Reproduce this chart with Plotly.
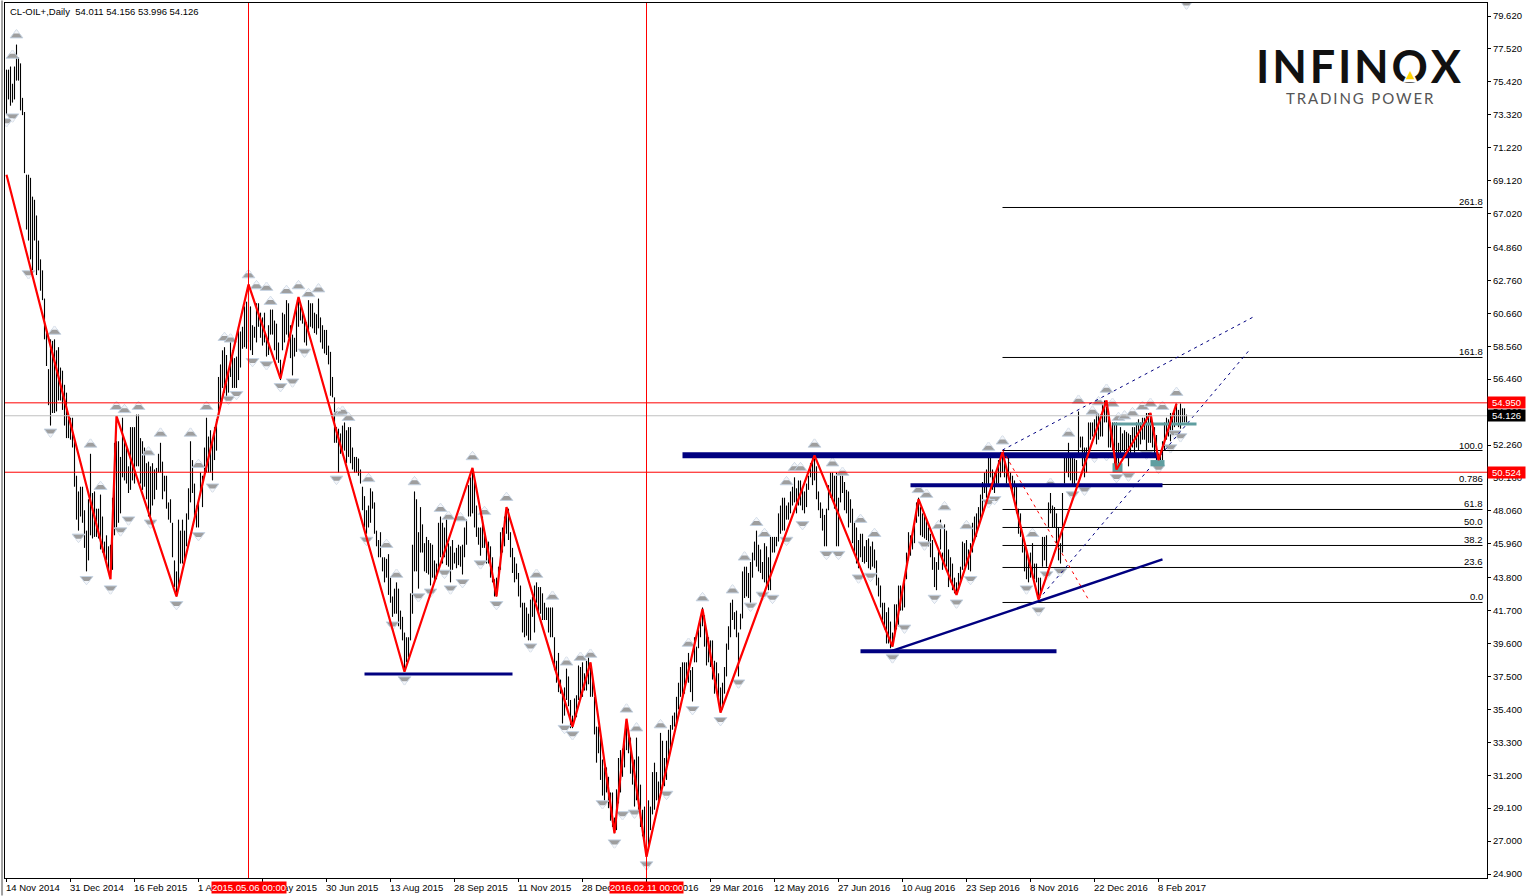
import plotly.graph_objects as go

# ---------- price bars (index = bar number, 32 bars between axis ticks) ----------
highs = [
76.2,76.2,76.4,75.3,76.4,77.8,77.0,76.6,74.4,73.5,69.5,69.5,69.3,68.1,67.9,66.9,65.3,64.1,63.4,61.6,59.4,57.1,59.0,58.9,59.0,58.3,58.5,57.2,57.0,56.1,55.6,53.9,
54.0,54.0,52.6,50.3,49.3,49.6,49.6,48.1,46.8,48.8,51.7,49.2,49.3,48.2,48.2,49.1,47.7,46.1,46.5,45.8,45.9,48.9,52.4,52.5,52.5,51.5,54.0,52.6,52.1,50.9,53.4,53.4,
53.4,54.2,54.2,52.7,52.5,52.1,51.1,51.2,50.9,51.1,50.7,50.8,51.7,52.4,51.2,50.3,50.3,48.6,48.8,47.3,44.9,44.2,47.5,46.8,47.5,46.8,47.9,49.5,52.5,51.3,49.8,48.4,
48.6,50.5,50.3,52.1,54.0,52.8,53.2,52.4,53.4,53.9,56.6,57.4,58.3,58.5,58.0,57.0,59.0,58.3,57.8,57.9,59.8,59.5,59.8,61.1,61.4,62.3,61.1,59.9,59.8,61.3,61.3,60.7,
60.4,60.7,59.1,59.9,60.9,60.9,60.2,60.0,58.8,57.7,60.7,60.6,61.5,61.3,59.9,59.3,59.1,61.1,61.6,61.1,60.9,60.4,60.1,61.5,61.3,61.3,60.7,60.6,61.6,60.4,59.9,59.6,
59.6,58.6,58.2,56.6,55.3,53.4,53.3,53.0,53.5,53.7,53.2,53.4,53.4,52.1,51.5,51.5,51.4,50.7,49.6,49.0,48.1,48.4,49.5,49.3,48.6,46.8,46.2,46.7,45.1,45.1,45.0,45.3,
43.8,42.6,43.1,43.5,43.1,41.7,41.3,40.3,40.0,40.0,42.8,45.9,49.3,48.8,46.7,48.3,47.2,46.0,46.4,46.2,46.0,45.9,44.9,44.7,47.3,47.7,47.3,47.0,47.8,46.0,45.8,46.2,
45.4,45.7,45.9,45.8,45.9,47.0,47.5,49.7,50.2,50.5,50.0,48.4,47.0,47.0,47.7,46.7,46.1,46.1,45.8,45.1,43.7,43.8,44.5,46.7,47.0,47.7,48.3,48.2,46.7,45.7,45.1,44.7,
44.1,43.3,42.2,42.2,41.9,41.5,42.4,42.6,43.3,43.5,43.2,43.2,42.8,42.2,41.9,41.9,41.9,41.9,40.0,38.5,39.0,37.3,36.6,36.8,38.0,37.5,36.0,35.0,36.1,36.3,38.2,38.1,
38.4,37.7,38.5,38.9,38.1,37.3,36.2,34.3,34.3,33.8,32.2,31.7,31.7,31.1,30.1,30.1,28.5,30.3,32.3,32.8,32.9,33.6,34.7,34.1,33.6,32.4,32.2,33.6,32.4,30.6,29.0,29.2,
27.3,29.6,29.2,31.4,32.0,31.4,30.8,33.9,33.4,32.3,33.4,34.1,34.4,35.0,35.2,36.2,37.1,38.1,38.4,38.4,38.4,39.0,37.9,38.1,40.0,39.4,40.5,41.2,41.9,41.4,40.5,40.0,
39.8,39.8,38.5,38.4,37.7,36.8,37.1,38.1,39.6,40.7,42.2,42.4,41.6,41.7,40.3,41.5,44.2,44.5,44.5,44.1,44.8,45.4,46.1,46.8,45.9,45.6,44.8,46.0,45.8,45.1,46.4,46.4,
46.4,46.4,47.9,48.4,48.9,48.9,48.4,48.6,49.3,49.6,50.2,49.5,50.0,50.0,49.6,49.3,49.8,50.3,51.1,51.5,51.4,50.9,49.3,48.6,48.2,47.8,48.2,49.7,50.5,50.5,50.3,50.5,
48.9,50.5,50.5,49.9,49.4,49.3,48.8,48.2,47.3,47.0,46.2,46.6,46.6,45.8,46.2,46.3,45.8,46.1,45.6,44.9,43.8,43.3,42.2,42.2,41.6,41.9,41.0,40.3,42.1,42.1,43.3,43.3,
43.2,43.7,45.4,46.7,46.5,46.6,47.3,48.6,48.9,48.3,47.9,47.9,47.5,47.0,46.6,46.2,45.1,44.8,45.6,47.5,45.4,47.2,46.8,45.6,45.1,44.7,43.8,43.5,44.1,44.5,46.1,46.0,
46.2,45.6,46.0,47.3,47.7,47.9,48.3,49.1,49.9,50.5,50.7,51.5,51.5,50.7,50.5,50.7,51.3,51.8,51.8,51.5,50.9,51.5,50.5,50.3,50.0,49.7,48.2,47.9,46.6,46.0,45.6,45.1,
45.4,46.0,44.7,44.7,43.8,43.8,46.4,46.4,46.5,48.6,49.2,48.4,48.3,47.9,47.0,46.0,49.2,51.7,51.7,52.4,51.6,51.6,51.4,51.3,54.4,52.8,52.8,52.1,52.1,53.7,53.7,53.7,
53.9,54.3,54.3,54.2,54.9,55.1,55.0,54.5,53.7,53.7,53.7,53.7,52.4,53.4,53.0,53.2,53.1,53.0,52.9,53.4,53.4,53.7,53.9,53.7,54.0,54.0,54.3,54.3,54.3,53.7,53.4,52.9,
51.7,51.9,52.5,53.7,54.0,53.9,54.3,54.3,54.5,54.9,54.5,54.9,54.6,54.6,54.2]
lows = [
73.3,74.3,73.9,74.1,74.3,75.5,75.5,73.6,73.3,69.6,66.0,65.3,64.1,63.4,65.3,63.1,63.4,62.1,61.5,59.0,57.3,54.8,53.5,54.3,54.3,54.4,55.1,55.1,54.5,53.5,52.7,52.7,
52.6,52.1,49.6,47.5,46.8,47.7,47.3,45.7,44.2,44.9,46.5,46.3,46.4,46.4,46.3,45.6,45.4,45.1,44.9,44.2,44.1,44.3,46.5,47.0,47.3,47.9,50.2,50.0,49.8,49.2,49.4,50.0,
49.8,50.9,50.9,49.8,49.4,49.6,48.8,47.7,47.7,48.4,48.8,49.4,50.5,50.5,48.8,49.3,48.2,47.5,47.3,45.1,43.2,42.6,43.2,44.7,44.7,44.9,45.8,47.5,48.6,49.2,47.7,47.0,
47.0,49.2,48.3,50.5,50.5,50.5,50.5,50.0,51.3,51.9,54.0,54.9,55.9,55.6,55.3,55.6,56.6,55.9,55.9,55.9,56.4,57.2,58.4,58.5,58.4,58.8,58.3,58.0,59.1,58.8,59.8,59.1,
58.6,58.8,57.9,58.0,59.3,59.3,58.3,57.7,57.5,56.4,58.3,58.8,59.3,59.1,57.8,56.7,57.9,58.2,59.8,60.2,60.0,58.8,58.6,59.6,59.8,59.7,59.4,59.3,59.7,58.8,58.4,58.1,
58.0,57.4,55.4,55.3,52.4,52.4,50.5,51.7,51.6,51.9,51.1,51.5,51.1,50.7,50.5,50.5,50.3,49.8,48.1,47.0,46.6,47.0,47.3,48.2,46.6,45.8,45.1,45.1,44.2,43.5,43.8,42.7,
42.2,41.3,41.5,41.5,40.7,40.5,39.8,37.9,38.4,38.7,39.8,41.5,44.2,44.2,43.1,45.4,45.4,44.2,44.1,44.0,43.3,43.8,43.5,43.7,44.3,45.1,44.7,45.1,44.6,44.5,43.5,44.3,
44.7,44.4,44.6,44.5,44.0,45.1,45.9,47.7,47.7,47.9,47.0,46.4,45.9,45.2,45.7,45.7,44.7,44.7,43.8,43.5,42.6,42.6,43.8,44.3,45.4,45.8,46.6,46.2,45.1,44.1,43.5,43.7,
42.6,41.9,40.3,40.0,40.1,39.8,39.8,41.3,40.3,42.2,41.5,41.5,41.1,41.1,41.1,40.3,40.0,40.0,37.9,37.1,36.5,36.4,34.5,35.0,36.0,35.6,34.2,34.2,34.7,34.9,36.0,36.2,
36.2,36.6,36.6,37.0,36.2,36.2,33.8,32.0,32.6,30.9,29.9,29.4,30.1,29.1,28.3,27.9,27.5,27.7,29.4,30.1,31.1,31.7,32.8,32.6,31.3,30.6,29.2,29.6,29.0,27.9,27.3,26.6,
26.0,26.7,27.7,28.7,29.0,29.6,29.4,30.1,30.7,30.5,30.9,32.2,32.8,34.1,34.3,34.5,35.4,36.2,36.1,36.4,37.1,37.1,36.5,35.9,38.4,38.4,39.3,40.0,40.7,39.4,38.2,38.4,
38.1,37.3,36.4,36.8,36.0,35.2,35.4,36.4,37.5,39.2,40.0,41.1,40.5,40.0,37.5,40.5,41.2,42.5,42.6,42.5,42.2,43.8,44.9,44.5,44.2,44.1,43.7,43.5,43.3,43.0,43.0,45.4,
45.4,45.8,46.1,46.6,46.8,46.8,47.5,47.5,47.9,48.4,48.6,47.9,48.4,48.4,48.1,47.9,48.3,49.4,50.2,49.7,50.0,48.8,48.1,47.6,46.8,45.8,45.8,48.1,48.9,48.8,48.2,45.8,
45.8,48.6,49.2,48.1,47.9,47.0,47.3,46.0,45.4,44.7,44.4,45.1,44.8,44.7,44.8,44.4,44.3,44.5,44.4,43.3,42.6,41.9,41.1,40.5,39.6,39.6,39.3,39.4,40.0,40.5,40.7,41.7,
41.7,41.9,43.7,44.9,45.2,45.6,46.0,47.3,47.7,46.5,46.4,46.3,46.2,45.8,45.1,44.3,43.2,43.0,44.3,45.6,44.3,44.5,44.5,43.2,43.5,43.0,42.8,42.8,43.0,43.5,44.3,44.5,
44.7,44.3,44.2,45.4,46.2,46.4,47.0,47.5,47.9,49.2,48.9,49.6,50.2,49.4,49.2,49.6,49.8,50.2,50.5,50.2,49.8,50.3,49.5,49.2,48.8,47.9,46.6,46.4,45.4,44.2,43.7,43.5,
43.8,43.8,43.7,43.5,42.4,42.8,44.5,44.9,44.5,47.0,47.9,47.0,47.0,46.0,44.9,44.7,45.4,49.8,50.5,50.2,50.0,49.6,49.6,50.0,51.7,52.1,50.9,50.2,50.5,51.9,52.6,52.8,
52.9,52.3,52.6,52.8,52.8,53.7,53.7,52.1,52.1,51.9,50.9,50.7,50.9,51.7,51.9,51.8,51.9,50.9,51.7,52.1,51.7,52.1,51.9,52.3,52.6,52.6,51.9,52.4,52.4,52.1,51.5,51.3,
51.1,51.3,51.3,51.9,52.6,52.8,52.5,53.0,53.4,53.7,53.4,53.3,53.7,53.7,53.7]

# ---------- zigzag ----------
zig_i = [0,52,55,85,121,137,146,199,233,245,250,283,292,304,310,320,348,357,404,443,456,475,498,516,550,555,572,576,585]
zig_p = [69.5,43.7,54.1,42.6,62.5,56.5,61.7,37.8,50.8,42.6,48.3,34.3,38.4,27.5,34.8,26.0,41.8,35.2,51.6,39.4,48.8,42.7,51.8,42.4,55.1,50.7,54.3,51.3,54.9]

# ---------- fractal arrows ----------
up_i = [5,3,24,42,47,55,59,66,71,77,92,96,100,109,112,121,125,130,132,140,146,151,156,166,168,171,181,190,195,204,217,221,227,233,239,250,265,273,280,287,292,310,315,327,341,348,363,369,375,379,390,394,397,404,413,418,427,434,456,460,469,466,480,491,498,513,522,531,536,543,546,550,553,556,559,563,568,572,578,585]
up_p = [78.4,77.1,59.5,52.3,49.6,54.7,54.5,54.7,51.8,53.0,53.0,51.0,54.7,59.1,59.0,63.1,62.4,62.3,61.4,62.1,62.4,61.9,62.2,54.3,54.4,54.0,50.1,45.9,44.0,49.9,48.2,47.7,47.6,51.5,48.0,48.9,44.0,42.6,38.4,38.7,38.9,35.4,34.2,34.4,39.6,42.5,43.0,45.1,47.3,46.6,49.9,50.8,50.8,52.3,51.1,50.5,47.5,46.6,49.4,49.1,48.3,47.1,47.1,52.1,52.5,46.6,49.8,53.0,55.1,54.4,55.0,55.8,54.9,54.0,54.1,54.3,54.7,54.9,54.7,55.6]
dn_i = [3,0,11,22,36,40,52,57,61,72,85,96,103,111,115,123,130,137,143,149,165,180,193,199,206,212,219,222,228,237,245,262,279,283,298,304,308,314,320,330,343,357,366,372,378,383,390,398,410,416,426,432,449,443,459,464,475,482,494,491,510,516,520,527,533,539,544,550,555,561,570,576,582,584,587,590]
dn_p = [73.2,72.9,63.2,53.1,46.4,43.7,43.1,46.8,47.5,47.3,42.1,46.5,49.6,55.2,55.5,57.6,57.4,56.0,56.3,58.2,50.1,46.2,40.8,37.3,42.6,42.9,44.1,43.1,43.5,44.7,42.1,39.4,34.2,33.8,29.4,26.9,28.7,28.8,25.5,30.0,35.4,34.7,37.1,42.0,42.7,42.5,46.2,47.2,45.3,45.3,43.8,43.9,40.6,38.7,45.9,42.5,42.2,43.7,48.8,48.6,43.1,41.7,44.0,44.2,49.1,49.4,51.5,51.6,50.2,50.3,51.7,50.8,52.1,53.0,52.8,80.4]

# ---------- drawn objects: [start bar, end bar, start price, end price, width] ----------
navy_lines = [
    [338, 576, 51.6, 51.6, 6],
    [452, 578, 49.7, 49.7, 4],
    [427, 525, 39.1, 39.1, 4],
    [179, 253, 37.65, 37.65, 3],
    [442, 578, 39.1, 44.97, 2.5],
]
navy_dashed = [[498, 624.5, 51.94, 60.5], [516, 621, 42.4, 58.25]]
red_dashed = [[498, 541, 51.94, 42.4]]
teal_line = [553, 595, 53.6, 53.6]
teal_boxes = [[553, 558, 50.5, 51.1], [572, 579, 50.9, 51.3]]

fib_labels = ["261.8", "161.8", "100.0", "0.786", "61.8", "50.0", "38.2", "23.6", "0.0"]
fib_prices = [67.408, 57.842, 51.91, 49.742, 48.148, 47.0, 45.852, 44.449, 42.217]
fib_start, fib_end = 498, 738

price_ticks = [79.62,77.52,75.42,73.32,71.22,69.12,67.02,64.86,62.76,60.66,58.56,56.46,54.36,52.26,50.16,48.06,45.96,43.8,41.7,39.6,37.5,35.4,33.3,31.2,29.1,27.0,24.9]
date_ticks = list(range(0, 600, 32))
date_labels = ["14 Nov 2014","31 Dec 2014","16 Feb 2015","1 Apr 2015","15 May 2015","30 Jun 2015","13 Aug 2015","28 Sep 2015","11 Nov 2015","28 Dec 2015","11 Feb 2016","29 Mar 2016","12 May 2016","27 Jun 2016","10 Aug 2016","23 Sep 2016","8 Nov 2016","22 Dec 2016","8 Feb 2017"]

hlines = [(54.95, "#ff0000"), (54.126, "#c0c0c0"), (50.524, "#ff0000")]
price_tags = [("54.950", 54.95, "#ff0000"), ("54.126", 54.126, "#000000"), ("50.524", 50.524, "#ff0000")]
vlines = [(121, "2015.05.06 00:00"), (320, "2016.02.11 00:00")]

RED = "#ff0000"
NAVY = "#000080"
TEAL = "#5f9ea0"
FONT = "Liberation Sans"
FS = 9.5

fig = go.Figure()
ann = []

bx, by = [], []
for i, (h, l) in enumerate(zip(highs, lows)):
    bx += [i, i, None]
    by += [h, l, None]
fig.add_trace(go.Scatter(x=bx, y=by, mode="lines", line=dict(color="#000000", width=1.1), hoverinfo="skip"))

# fractal arrows: a grey head with a pale notch cut into its base
for xs, ys, ang, notch_ang in ((up_i, up_p, 0, 180), (dn_i, dn_p, 180, 0)):
    fig.add_trace(go.Scatter(x=xs, y=ys, mode="markers", hoverinfo="skip",
                             marker=dict(symbol="triangle-up", size=11, angle=ang, color="#9e9e9e",
                                         line=dict(color="#c4d2e2", width=1))))
    fig.add_trace(go.Scatter(x=xs, y=ys, mode="markers", hoverinfo="skip",
                             marker=dict(symbol="triangle-down", size=5, angle=notch_ang, standoff=3, color="#f2f5fa",
                                         line=dict(width=0))))

for p, lab in zip(fib_prices, fib_labels):
    fig.add_trace(go.Scatter(x=[fib_start, fib_end], y=[p, p], mode="lines",
                             line=dict(color="#000000", width=1), hoverinfo="skip"))
    ann.append(dict(xref="x", yref="y", x=fib_end + 0.5, y=p, text=lab, showarrow=False,
                    xanchor="right", yanchor="bottom", yshift=-1, borderpad=0,
                    font=dict(family=FONT, size=FS, color="#000000")))

for x0, x1, y0, y1, w in navy_lines:
    fig.add_trace(go.Scatter(x=[x0, x1], y=[y0, y1], mode="lines",
                             line=dict(color=NAVY, width=w), hoverinfo="skip"))
for x0, x1, y0, y1 in navy_dashed:
    fig.add_trace(go.Scatter(x=[x0, x1], y=[y0, y1], mode="lines",
                             line=dict(color=NAVY, width=1, dash="3px,4px"), hoverinfo="skip"))
for x0, x1, y0, y1 in red_dashed:
    fig.add_trace(go.Scatter(x=[x0, x1], y=[y0, y1], mode="lines",
                             line=dict(color=RED, width=1, dash="3px,4px"), hoverinfo="skip"))

fig.add_trace(go.Scatter(x=teal_line[:2], y=teal_line[2:], mode="lines",
                         line=dict(color=TEAL, width=3), hoverinfo="skip"))
for x0, x1, y0, y1 in teal_boxes:
    fig.add_trace(go.Scatter(x=[x0, x1, x1, x0, x0], y=[y0, y0, y1, y1, y0], mode="lines", fill="toself",
                             fillcolor=TEAL, line=dict(color=TEAL, width=0), hoverinfo="skip"))

fig.add_trace(go.Scatter(x=zig_i, y=zig_p, mode="lines", line=dict(color=RED, width=2.2), hoverinfo="skip"))

shapes = []
for p, c in hlines:
    shapes.append(dict(type="line", xref="paper", x0=0, x1=1, yref="y", y0=p, y1=p, line=dict(color=c, width=1), layer="above"))
for i, _ in vlines:
    shapes.append(dict(type="line", xref="x", x0=i, x1=i, yref="paper", y0=0, y1=1, line=dict(color=RED, width=1), layer="above"))
shapes.append(dict(type="line", xref="paper", x0=-0.002, x1=-0.002, yref="paper", y0=-0.02, y1=1.003,
                   line=dict(color="#a0a0a0", width=2)))

# date labels sit to the right of their tick
for i, lab in zip(date_ticks, date_labels):
    ann.append(dict(xref="x", yref="paper", x=i, y=0, yshift=-3, xshift=-2, text=lab, showarrow=False,
                    xanchor="left", yanchor="top", borderpad=0,
                    font=dict(family=FONT, size=FS, color="#000000")))
for i, lab in vlines:
    ann.append(dict(xref="x", yref="paper", x=i, y=0, yshift=-3, text=lab, showarrow=False,
                    xanchor="center", yanchor="top", bgcolor=RED, borderpad=0,
                    font=dict(family=FONT, size=FS, color="#ffffff")))
for lab, p, c in price_tags:
    ann.append(dict(xref="paper", yref="y", x=1, y=p, text=lab, showarrow=False, xanchor="left", yanchor="middle",
                    bgcolor=c, borderpad=0, width=37, align="center",
                    font=dict(family=FONT, size=FS, color="#ffffff")))
ann.append(dict(xref="paper", yref="paper", x=0.0034, y=0.9995, yshift=-1, xshift=-2, showarrow=False, xanchor="left", yanchor="top",
                text="CL-OIL+,Daily\u00a0\u00a054.011 54.156 53.996 54.126",
                font=dict(family=FONT, size=FS, color="#000000")))
# logo
ann.append(dict(xref="paper", yref="paper", x=0.9136, y=0.928, xanchor="center", yanchor="middle", showarrow=False,
                text="I\u200aN\u200aF\u200aI\u200aN\u200aO\u200aX",
                font=dict(family="Lato", size=45, color="#111111", weight=700)))
ann.append(dict(xref="paper", yref="paper", x=0.9146, y=0.8914, xanchor="center", yanchor="middle", showarrow=False,
                text="T\u2009R\u2009A\u2009D\u2009I\u2009N\u2009G\u2009\u2009 P\u2009O\u2009W\u2009E\u2009R",
                font=dict(family="Lato", size=15, color="#555555")))
ann.append(dict(xref="paper", yref="paper", x=0.9481, y=0.9205, xanchor="center", yanchor="middle", showarrow=False, text="\u25b2",
                font=dict(family="DejaVu Sans", size=19, color="#ffffff")))
ann.append(dict(xref="paper", yref="paper", x=0.9481, y=0.9185, xanchor="center", yanchor="middle", showarrow=False, text="\u25b2",
                font=dict(family="DejaVu Sans", size=11, color="#ffd400")))

fig.update_layout(
    width=1526, height=896, autosize=False, showlegend=False,
    paper_bgcolor="#ffffff", plot_bgcolor="#ffffff",
    margin=dict(l=5, r=39, t=3, b=18, pad=0),
    shapes=shapes, annotations=ann,
    xaxis=dict(range=[-0.75, 740.25], showgrid=False, zeroline=False, tickmode="array", tickvals=date_ticks,
               ticktext=[""] * len(date_ticks), ticks="outside", ticklen=3, tickcolor="#000000",
               showline=True, linecolor="#000000", linewidth=1, mirror=True, fixedrange=True),
    yaxis=dict(range=[24.645, 80.45], side="right", showgrid=False, zeroline=False, tickmode="array",
               tickvals=price_ticks, ticktext=[f"{v:.3f}" for v in price_ticks], ticks="outside", ticklen=3,
               tickcolor="#000000", showline=True, linecolor="#000000", linewidth=1, mirror=True, fixedrange=True,
               tickfont=dict(family=FONT, size=FS, color="#000000")),
)

fig.write_html("out.html", config=dict(displayModeBar=False),
               post_script="document.body.style.margin='0';document.body.style.overflow='hidden';")
